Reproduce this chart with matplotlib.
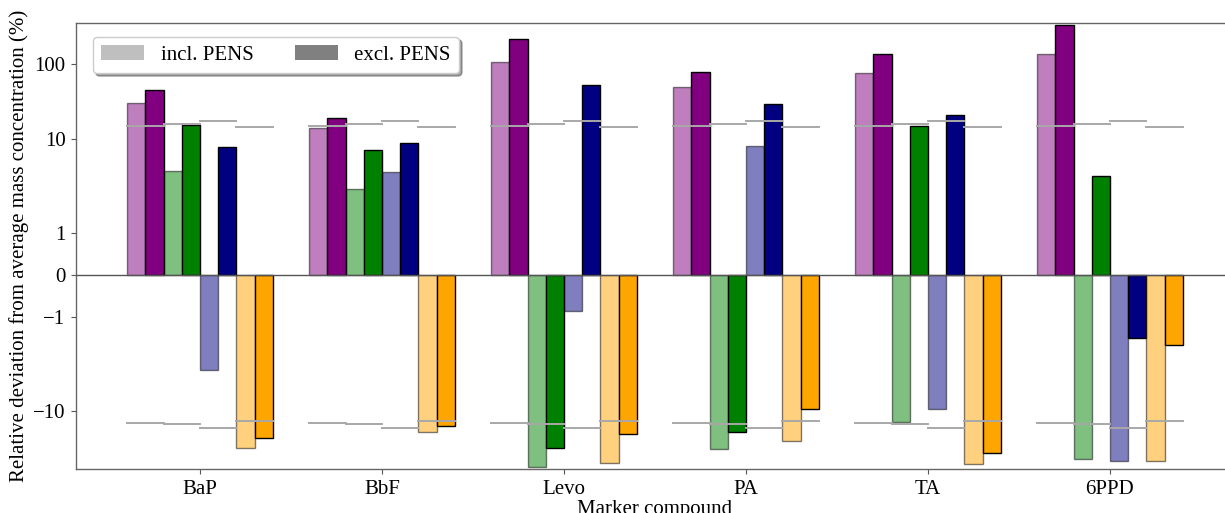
import numpy as np
import matplotlib
matplotlib.use("Agg")
import matplotlib.pyplot as plt
from matplotlib.patches import Patch

plt.rcParams['font.family'] = ['Liberation Serif', 'DejaVu Serif']

compounds = ["BaP", "BbF", "Levo", "PA", "TA", "6PPD"]

# relative deviations (%) per series: light = incl. PENS, dark = excl. PENS
purple_incl = [30.0, 13.7, 105.6, 48.6, 75.4, 135.0]
purple_excl = [44.0, 18.9, 212.0, 77.0, 135.0, 326.0]
green_incl = [4.52, 2.94, -55.3, -31.8, -13.9, -42.8]
green_excl = [15.1, 7.50, -30.8, -18.9, 14.8, 4.0]
blue_incl = [-3.61, 4.41, -0.856, 8.33, -9.52, -45.4]
blue_excl = [8.19, 8.89, 51.7, 28.8, 20.6, -1.65]
orange_incl = [-30.5, -19.05, -48.3, -24.4, -50.9, -45.4]
orange_excl = [-22.7, -15.5, -19.8, -9.52, -35.6, -1.98]

# reference limits per pair (upper, lower)
ref_upper = [14.7, 15.6, 17.1, 14.2]
ref_lower = [-14.3, -14.9, -16.7, -13.5]

yticks = [-10, -1, 0, 1, 10, 100]
ytick_labels = ["\u221210", "\u22121", "0", "1", "10", "100"]

# ---- custom symmetric log-like scale (matches the reference axis spacing)
S_K = np.array([-10, -3, -2, -1, 0, 1, 2, 3, 10], dtype=float)
P_K = np.array([-736.5, -211.5, -136.5, -42.2, 0, 42.2, 136.5, 211.5, 736.5])


def _to_s(y):
    y = np.asarray(y, dtype=float)
    a = np.abs(y)
    s = np.where(a <= 1, a, 1 + np.log10(np.maximum(a, 1e-300)))
    return np.sign(y) * s


def _from_s(s):
    s = np.asarray(s, dtype=float)
    a = np.abs(s)
    y = np.where(a <= 1, a, 10 ** (np.maximum(a, 1) - 1))
    return np.sign(s) * y


def forward(y):
    return np.interp(_to_s(y), S_K, P_K)


def inverse(p):
    return _from_s(np.interp(p, P_K, S_K))


FS = 15

fig = plt.figure(figsize=(12.25, 5.13), dpi=100)
W, H = 1225, 513
left, right, top, bottom = 76, 1234, 22.7, 469.3
ax = fig.add_axes([left / W, (H - bottom) / H, (right - left) / W, (bottom - top) / H])
ax.set_yscale('function', functions=(forward, inverse))

x = np.arange(len(compounds))
bw = 0.1
series = [
    (purple_incl, 'purple', 0.5), (purple_excl, 'purple', 1.0),
    (green_incl, 'green', 0.5), (green_excl, 'green', 1.0),
    (blue_incl, 'navy', 0.5), (blue_excl, 'navy', 1.0),
    (orange_incl, 'orange', 0.5), (orange_excl, 'orange', 1.0),
]
for i, (vals, col, al) in enumerate(series):
    ax.bar(x + (i - 3.5) * bw, vals, width=bw, color=col, alpha=al,
           edgecolor='black', linewidth=1.0, zorder=2)

for k in range(4):
    for g in x:
        x0 = g + (2 * k - 4) * bw
        ax.plot([x0, x0 + 2 * bw], [ref_upper[k], ref_upper[k]], color='#a8a8a8', lw=1.4, zorder=3)
        ax.plot([x0, x0 + 2 * bw], [ref_lower[k], ref_lower[k]], color='#a8a8a8', lw=1.4, zorder=3)

ax.axhline(0, color='#555555', lw=1.0, zorder=3)

ax.set_xlim(-124 / 182, 5 + 124 / 182)
ax.set_ylim(-59.0, 350)
ax.set_yticks(yticks)
ax.set_yticklabels(ytick_labels)
ax.set_xticks(x)
ax.set_xticklabels(compounds)
ax.tick_params(axis='both', labelsize=FS, colors='#555555', labelcolor='black', length=3.5)
ax.tick_params(axis='x', pad=4)
ax.tick_params(axis='y', pad=4)

for sp in ax.spines.values():
    sp.set_color('#666666')
    sp.set_linewidth(1.0)

ax.set_ylabel("Relative deviation from average mass concentration (%)", fontsize=FS, labelpad=3)
ax.set_xlabel("Marker compound", fontsize=FS, labelpad=1)

handles = [Patch(facecolor='gray', alpha=0.5, label='incl. PENS'),
           Patch(facecolor='gray', alpha=1.0, label='excl. PENS')]
ax.legend(handles=handles, ncol=2, loc='upper left', fontsize=FS, shadow=True,
          handlelength=2.05, handletextpad=0.8, columnspacing=2.0,
          bbox_to_anchor=(17 / 1158, 1 - 14.3 / 446.6),
          borderaxespad=0.0, frameon=True, fancybox=True)

fig.savefig("out.png", dpi=100)
